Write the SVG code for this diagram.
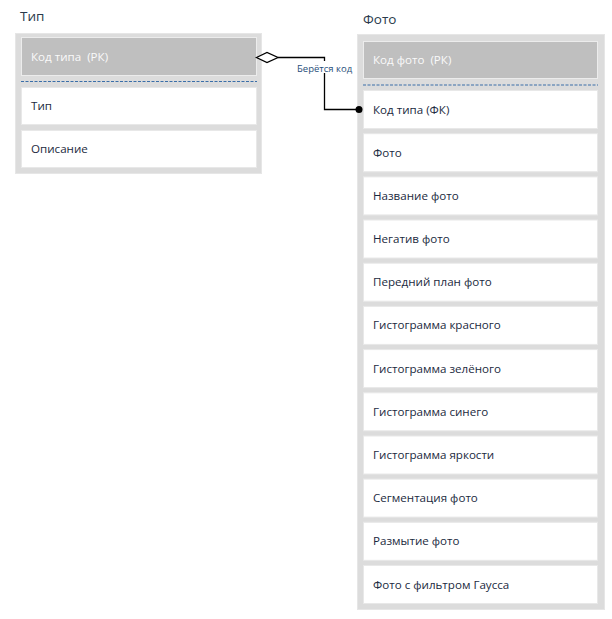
<svg xmlns="http://www.w3.org/2000/svg" width="612" height="619" viewBox="0 0 612 619">
<style>
.title{font-family:"Open Sans","Noto Sans","DejaVu Sans",sans-serif;font-size:13.5px;fill:#2a3a4c}
.frame{fill:#dcdcdc;stroke:#e6e6e6;stroke-width:1}
.hdr{fill:#bfbfbf;stroke:#ececec;stroke-width:1}
.hdrtxt{font-family:"Open Sans","Noto Sans","DejaVu Sans",sans-serif;font-size:11.6px;fill:#fafafa;white-space:pre}
.row{fill:#ffffff;stroke:#e8e8e8;stroke-width:1}
.txt{font-family:"Open Sans","Noto Sans","DejaVu Sans",sans-serif;font-size:11.6px;fill:#1b2a3e}
.dash{stroke:#3a6ea8;stroke-width:1;stroke-dasharray:3,1.5}
.conn{fill:none;stroke:#000;stroke-width:1.3}
.lbl{font-family:"Open Sans","Noto Sans","DejaVu Sans",sans-serif;font-size:9.5px;fill:#1f4e79}
</style>
<rect width="612" height="619" fill="#ffffff"/>
<g id="tip">
<text class="title" x="20" y="21">Тип</text>
<rect class="frame" x="15.5" y="33.5" width="246" height="140"/>
<rect class="hdr" x="21.5" y="37.5" width="235" height="38"/>
<text class="hdrtxt" x="31" y="61">Код типа  (РК)</text>
<line class="dash" x1="21" y1="81.5" x2="257" y2="81.5"/>
<rect class="row" x="21.5" y="87.5" width="235" height="37"/>
<text class="txt" x="31" y="110">Тип</text>
<rect class="row" x="21.5" y="130.5" width="235" height="37"/>
<text class="txt" x="31" y="153">Описание</text>
</g>
<g id="foto">
<text class="title" x="363" y="24">Фото</text>
<rect class="frame" x="357.5" y="34.5" width="247" height="575"/>
<rect class="hdr" x="363.5" y="41.5" width="234" height="37"/>
<text class="hdrtxt" x="373" y="64">Код фото  (РК)</text>
<line class="dash" x1="363" y1="85" x2="598" y2="85"/>
<rect class="row" x="363.5" y="90.5" width="234" height="38"/>
<text class="txt" x="373" y="113.5">Код типа (ФК)</text>
<rect class="row" x="363.5" y="133.7" width="234" height="38"/>
<text class="txt" x="373" y="156.5">Фото</text>
<rect class="row" x="363.5" y="176.9" width="234" height="38"/>
<text class="txt" x="373" y="199.5">Название фото</text>
<rect class="row" x="363.5" y="220.0" width="234" height="38"/>
<text class="txt" x="373" y="243">Негатив фото</text>
<rect class="row" x="363.5" y="263.2" width="234" height="38"/>
<text class="txt" x="373" y="286">Передний план фото</text>
<rect class="row" x="363.5" y="306.4" width="234" height="38"/>
<text class="txt" x="373" y="329">Гистограмма красного</text>
<rect class="row" x="363.5" y="349.6" width="234" height="38"/>
<text class="txt" x="373" y="372.5">Гистограмма зелёного</text>
<rect class="row" x="363.5" y="392.8" width="234" height="38"/>
<text class="txt" x="373" y="415.5">Гистограмма синего</text>
<rect class="row" x="363.5" y="436.0" width="234" height="38"/>
<text class="txt" x="373" y="459">Гистограмма яркости</text>
<rect class="row" x="363.5" y="479.1" width="234" height="38"/>
<text class="txt" x="373" y="502">Сегментация фото</text>
<rect class="row" x="363.5" y="522.3" width="234" height="38"/>
<text class="txt" x="373" y="545">Размытие фото</text>
<rect class="row" x="363.5" y="565.5" width="234" height="38"/>
<text class="txt" x="373" y="588.5">Фото с фильтром Гаусса</text>
</g>
<g id="connectors">
<polyline class="conn" points="278,57.5 324.5,57.5 324.5,109.5 357,109.5"/>
<polygon points="256.5,57.5 267,52.5 278,57.5 267,62.5" fill="#ffffff" stroke="#000" stroke-width="1.3"/>
<circle cx="359" cy="109.5" r="3.5" fill="#000"/>
<rect x="296" y="61" width="57" height="12" fill="#ffffff"/>
<text class="lbl" x="297" y="71.5">Берётся код</text>
</g>
</svg>
